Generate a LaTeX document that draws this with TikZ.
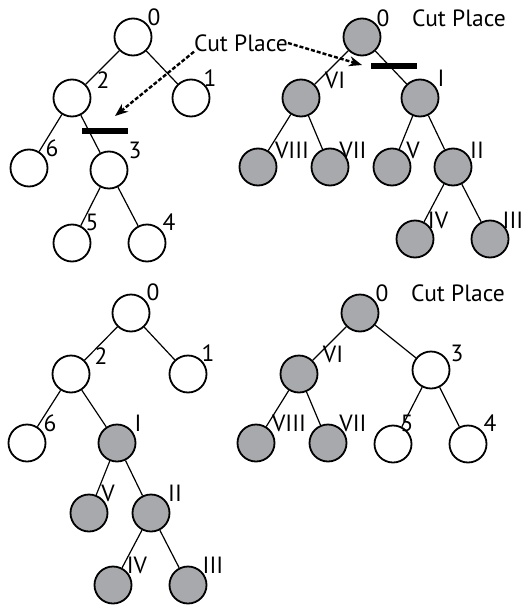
\documentclass[tikz,border=0pt]{standalone}
\usepackage{fontspec}
\setmainfont{PT Sans}
\usetikzlibrary{arrows.meta}
\definecolor{cutgray}{RGB}{168,169,173}

\begin{document}
\begin{tikzpicture}[x=1pt,y=-1pt,
  every node/.style={inner sep=0pt},
  vtx/.style={circle,draw,line width=1.8pt,minimum size=37pt,fill=white},
  gvtx/.style={vtx,fill=cutgray},
  lbl/.style={font=\fontsize{23.5}{27}\selectfont},
  cutbar/.style={fill=black,minimum width=46pt,minimum height=6pt},
  edge/.style={line width=1.2pt},
  cutarrow/.style={line width=2.4pt,dash pattern=on 4pt off 2pt,-{Stealth[length=13pt,width=10pt]}}]
\useasboundingbox (0,0) rectangle (523,608);

% tree before the cut
\node[vtx] (a0) at (133,37) {};
\node[vtx] (a2) at (72,98) {};
\node[vtx] (a1) at (191,98) {};
\node[vtx] (a6) at (29,168) {};
\node[vtx] (a3) at (109,170) {};
\node[vtx] (a5) at (72,243) {};
\node[vtx] (a4) at (147,243) {};
\node[lbl] (la0) at (154,17) {0};
\node[lbl] (la2) at (103,80) {2};
\node[lbl] (la1) at (210,78) {1};
\node[lbl] (la6) at (52,148) {6};
\node[lbl] (la3) at (135,150) {3};
\node[lbl] (la5) at (92,222) {5};
\node[lbl] (la4) at (169,222) {4};
\foreach \u/\v in {a0/a2,a0/a1,a2/a6,a2/a3,a3/a5,a3/a4}
  \draw[edge] (\u) -- (\v);
\node[cutbar] (cutA) at (105,131) {};

% second tree, all grey
\node[gvtx] (b0) at (362,37) {};
\node[gvtx] (bVI) at (301,98) {};
\node[gvtx] (bI) at (420,98) {};
\node[gvtx] (bVIII) at (258,167) {};
\node[gvtx] (bVII) at (330,167) {};
\node[gvtx] (bV) at (392,167) {};
\node[gvtx] (bII) at (453,167) {};
\node[gvtx] (bIV) at (415,239) {};
\node[gvtx] (bIII) at (490,239) {};
\node[lbl] (lb0) at (383,18) {0};
\node[lbl] (lbVI) at (335,80) {VI};
\node[lbl] (lbI) at (441,78) {I};
\node[lbl] (lbVIII) at (292,150) {VIII};
\node[lbl] (lbVII) at (353,150) {VII};
\node[lbl] (lbV) at (413,150) {V};
\node[lbl] (lbII) at (477,150) {II};
\node[lbl] (lbIV) at (438,220) {IV};
\node[lbl] (lbIII) at (513,220) {III};
\node[lbl] (cpB) at (459,18) {Cut Place};
\foreach \u/\v in {b0/bVI,b0/bI,bVI/bVIII,bVI/bVII,bI/bV,bI/bII,bII/bIV,bII/bIII}
  \draw[edge] (\u) -- (\v);
\node[cutbar] (cutB) at (394,66) {};

% arrows from the shared label
\node[lbl] (cp) at (241,43) {Cut Place};
\coordinate (tipA) at (115,116);
\coordinate (tipB) at (362,65);
\draw[cutarrow] (cp.south west) -- (tipA);
\draw[cutarrow] (cp.east) -- (tipB);

% swapped subtrees, left
\node[vtx] (c0) at (131,313) {};
\node[vtx] (c2) at (71,374) {};
\node[vtx] (c1) at (188,374) {};
\node[vtx] (c6) at (27,443) {};
\node[gvtx] (cI) at (117,443) {};
\node[gvtx] (cV) at (89,513) {};
\node[gvtx] (cII) at (151,513) {};
\node[gvtx] (cIV) at (113,585) {};
\node[gvtx] (cIII) at (188,585) {};
\node[lbl] (lc0) at (153,292) {0};
\node[lbl] (lc2) at (101,356) {2};
\node[lbl] (lc1) at (208,353) {1};
\node[lbl] (lc6) at (50,423) {6};
\node[lbl] (lcI) at (138,423) {I};
\node[lbl] (lcV) at (108,493) {V};
\node[lbl] (lcII) at (175,493) {II};
\node[lbl] (lcIV) at (137,565) {IV};
\node[lbl] (lcIII) at (213,565) {III};
\foreach \u/\v in {c0/c2,c0/c1,c2/c6,c2/cI,cI/cV,cI/cII,cII/cIV,cII/cIII}
  \draw[edge] (\u) -- (\v);

% swapped subtrees, right
\node[gvtx] (d0) at (360,313) {};
\node[gvtx] (dVI) at (299,374) {};
\node[vtx] (d3) at (431,370) {};
\node[gvtx] (dVIII) at (256,443) {};
\node[gvtx] (dVII) at (328,443) {};
\node[vtx] (d5) at (393,444) {};
\node[vtx] (d4) at (468,444) {};
\node[lbl] (ld0) at (382,293) {0};
\node[lbl] (cpD) at (458,293) {Cut Place};
\node[lbl] (ldVI) at (333,354) {VI};
\node[lbl] (ld3) at (457,353) {3};
\node[lbl] (ldVIII) at (289,423) {VIII};
\node[lbl] (ldVII) at (353,423) {VII};
\node[lbl] (ld5) at (407,423) {5};
\node[lbl] (ld4) at (490,423) {4};
\foreach \u/\v in {d0/dVI,d0/d3,dVI/dVIII,dVI/dVII,d3/d5,d3/d4}
  \draw[edge] (\u) -- (\v);
\end{tikzpicture}
\end{document}
